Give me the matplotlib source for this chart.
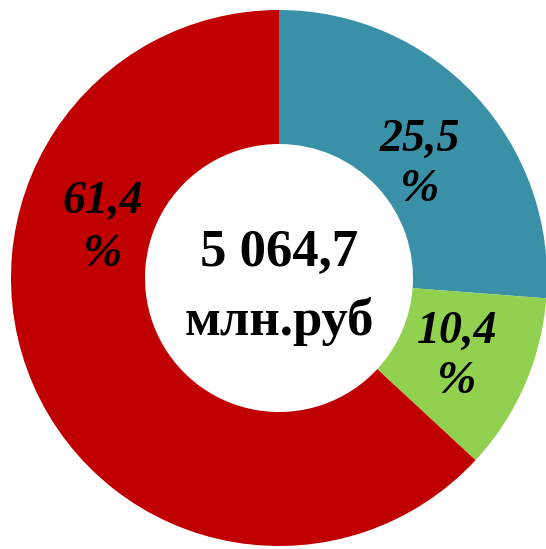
import matplotlib
matplotlib.use("Agg")
import matplotlib.pyplot as plt

categories = ["A", "B", "C"]
values = [25.5, 10.4, 61.4]
labels = ["25,5", "10,4", "61,4"]
total_text = "5 064,7"
unit_text = "млн.руб"
colors = ["#3A91A7", "#92D050", "#C00000"]

W, H = 546, 549
fig = plt.figure(figsize=(W / 100, H / 100), dpi=100)
ax = fig.add_axes([0, 0, 1, 1])

cx, cy, R = 279, H - 278, 268
ax.pie(values, colors=colors, startangle=90, counterclock=False,
       center=(cx, cy), radius=R, frame=True,
       wedgeprops=dict(width=R * 0.5, edgecolor="none"))
ax.set_xlim(0, W)
ax.set_ylim(0, H)
ax.set_aspect("equal")
ax.axis("off")

label_pos = [(420, 140, 190), (457, 332, 382), (103, 202, 255)]
for lab, (x, y1, y2) in zip(labels, label_pos):
    ax.text(x, H - y1, lab, ha="center", va="center", fontsize=33,
            family="Liberation Serif", weight="bold", style="italic")
    ax.text(x, H - y2, "%", ha="center", va="center", fontsize=34,
            family="Liberation Serif", weight="bold", style="italic")

ax.text(cx, H - 253, total_text, ha="center", va="center", fontsize=38,
        family="Liberation Serif", weight="bold")
ax.text(cx, H - 321, unit_text, ha="center", va="center", fontsize=38,
        family="Liberation Serif", weight="bold")

fig.savefig("out.png", dpi=100)
